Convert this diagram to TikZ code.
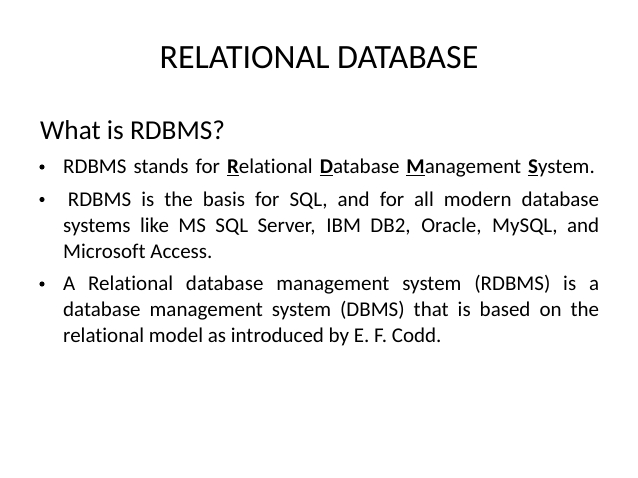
\documentclass[tikz,border=0pt]{standalone}
\usepackage{fontspec}
\setmainfont[Ligatures=CommonOff]{Carlito}
\usepackage{tikz}
\usetikzlibrary{positioning}
\tolerance=9999
\emergencystretch=2em
\hyphenpenalty=10000
\exhyphenpenalty=10000

\begin{document}
\begin{tikzpicture}
	[x=1pt,y=-1pt,
	title/.style={inner sep=0pt,anchor=base,font=\fontsize{34}{41}\selectfont},
	head/.style={inner sep=0pt,anchor=base west,font=\fontsize{27.3}{33}\selectfont},
	item/.style={inner sep=0pt,anchor=base west,text width=536pt,align=justify,
		font=\fontsize{21}{26}\selectfont},
	dot/.style={circle,fill=black,inner sep=0pt,minimum size=5.2pt}]
	\useasboundingbox[fill=white] (0,0) rectangle (638,478);
	%titulo
	\node[title] (tit) at (319,69) {RELATIONAL DATABASE};
	\node[head] (q) at (40,140) {What is RDBMS?};
	%puntos
	\node[dot] (d1) at (42,167) {};
	\node[dot] (d2) at (42,199.5) {};
	\node[dot] (d3) at (42,284) {};
	%texto
	\node[item,align=left] (t1) at (63,174) {RDBMS stands for \underline{\textbf{R}}elational \underline{\textbf{D}}atabase \underline{\textbf{M}}anagement \underline{\textbf{S}}ystem.};
	\node[item] (t2) at (63,206.5) {\hspace{4.7pt}RDBMS is the basis for SQL, and for all modern database systems like MS SQL Server, IBM DB2, Oracle, MySQL, and Microsoft Access.};
	\node[item] (t3) at (63,291) {A Relational database management system (RDBMS) is a database management system (DBMS) that is based on the relational model as introduced by E. F. Codd.};
\end{tikzpicture}
\end{document}
